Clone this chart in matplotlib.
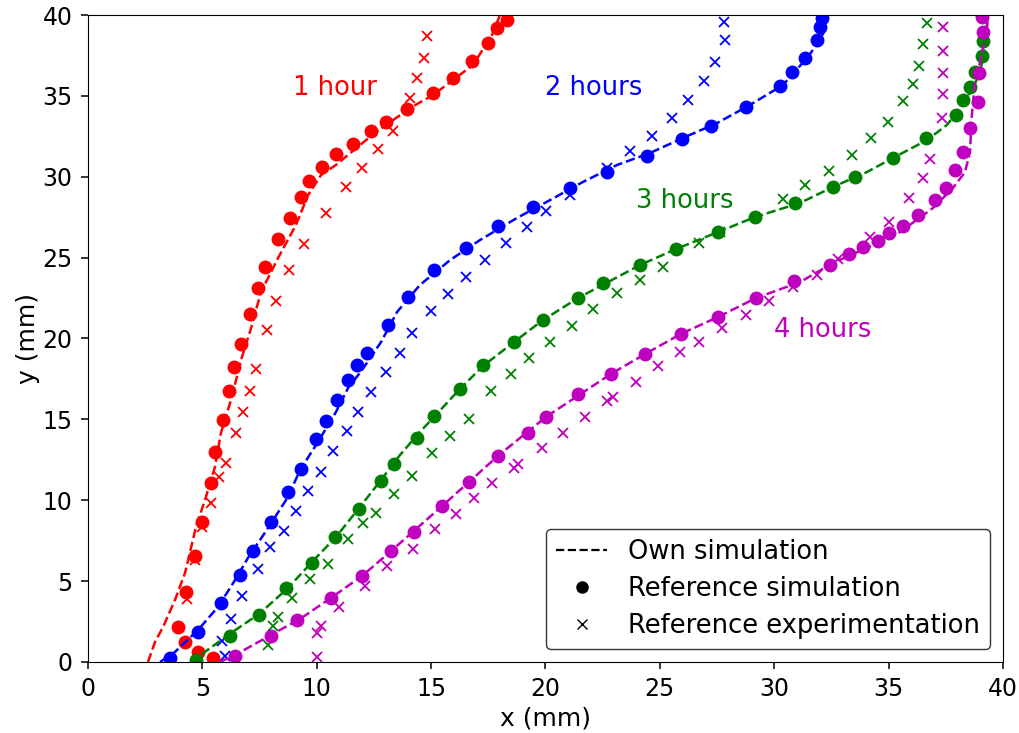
import matplotlib
matplotlib.use("Agg")
import matplotlib.pyplot as plt
from matplotlib.lines import Line2D

# ── Datos (x, y en mm) ────────────────────────────────────────────────────────
# 1 hora
own1_x = [2.62, 2.93, 3.28, 3.80, 4.24, 4.72, 5.11, 5.55, 5.81, 6.25, 6.73, 7.13, 7.56,
          8.31, 9.09, 9.62, 10.19, 10.84, 12.42, 14.08, 15.08, 16.83, 17.66, 18.01]
own1_y = [0.0, 1.24, 2.16, 3.83, 5.50, 8.35, 10.0, 12.06, 14.16, 16.20, 18.86, 20.65, 22.87,
          24.98, 27.02, 28.87, 30.11, 30.73, 32.58, 34.25, 35.05, 36.91, 38.76, 40.0]
ref1_x = [5.46, 4.81, 4.24, 3.93, 4.28, 4.68, 4.98, 5.38, 5.55, 5.90, 6.16, 6.38, 6.69, 7.08,
          7.43, 7.74, 8.31, 8.83, 9.31, 9.66, 10.23, 10.84, 11.58, 12.37, 13.03, 13.95,
          15.08, 15.96, 16.79, 17.49, 17.88, 18.32]
ref1_y = [0.25, 0.62, 1.24, 2.16, 4.33, 6.55, 8.66, 11.07, 12.98, 14.96, 16.75, 18.24, 19.66,
          21.51, 23.12, 24.42, 26.15, 27.45, 28.75, 29.74, 30.60, 31.41, 32.02, 32.83, 33.38,
          34.19, 35.18, 36.11, 37.16, 38.27, 39.20, 39.69]
exp1_x = [4.81, 4.33, 4.68, 4.98, 5.38, 5.73, 6.03, 6.47, 6.78, 7.08, 7.34, 7.83, 8.22, 8.79,
          9.44, 10.40, 11.28, 11.98, 12.68, 13.33, 14.08, 14.38, 14.69, 14.82]
exp1_y = [0.25, 3.89, 6.31, 8.35, 9.83, 11.44, 12.30, 14.16, 15.46, 16.75, 18.11, 20.53, 22.32,
          24.23, 25.84, 27.76, 29.37, 30.54, 31.72, 32.83, 34.87, 36.11, 37.34, 38.70]

# 2 horas
own2_x = [3.15, 3.80, 4.81, 5.68, 6.43, 6.99, 7.87, 8.74, 9.27, 10.05, 10.84, 11.37, 11.98,
          12.81, 13.51, 14.51, 15.83, 17.14, 18.75, 20.20, 21.64, 23.13, 24.57, 26.01, 27.50,
          28.94, 30.38, 31.43, 31.91, 32.22, 32.30]
own2_y = [0.0, 0.62, 1.98, 3.40, 5.07, 6.43, 8.28, 10.20, 11.87, 13.60, 15.46, 16.94, 18.05,
          19.78, 21.64, 23.31, 24.85, 26.09, 27.45, 28.56, 29.68, 30.73, 31.47, 32.40, 33.32,
          34.44, 35.67, 37.34, 38.27, 39.07, 40.0]
ref2_x = [3.58, 4.81, 5.81, 6.64, 7.21, 8.00, 8.74, 9.31, 9.97, 10.40, 10.89, 11.37, 11.76,
          12.20, 13.11, 13.99, 15.13, 16.52, 17.92, 19.45, 21.07, 22.69, 24.44, 25.97, 27.23,
          28.77, 30.25, 30.78, 31.34, 31.87, 32.0, 32.09]
ref2_y = [0.25, 1.85, 3.65, 5.38, 6.86, 8.66, 10.51, 11.93, 13.79, 14.90, 16.20, 17.43, 18.36,
          19.10, 20.83, 22.57, 24.24, 25.60, 26.96, 28.13, 29.30, 30.29, 31.28, 32.33, 33.14,
          34.31, 35.61, 36.48, 37.34, 38.45, 39.26, 39.81]
exp2_x = [5.99, 5.86, 6.25, 6.73, 7.43, 7.96, 8.57, 9.09, 9.62, 10.19, 10.71, 11.32, 11.80,
          12.37, 13.03, 13.64, 14.16, 14.99, 15.74, 16.52, 17.36, 18.27, 19.19, 20.02, 21.07,
          22.69, 23.69, 24.66, 25.53, 26.23, 26.93, 27.41, 27.85, 27.80]
exp2_y = [0.37, 1.30, 2.66, 4.08, 5.75, 7.11, 8.10, 9.34, 10.57, 11.75, 13.04, 14.28, 15.46,
          16.69, 17.93, 19.10, 20.34, 21.70, 22.75, 23.80, 24.85, 25.90, 26.89, 27.88, 28.87,
          30.54, 31.59, 32.52, 33.63, 34.74, 35.92, 37.09, 38.45, 39.57]

# 3 horas
own3_x = [4.50, 6.25, 7.48, 8.74, 9.79, 10.84, 11.85, 12.81, 13.64, 14.51, 16.26, 17.27, 18.62,
          19.89, 21.42, 24.13, 25.70, 27.54, 29.16, 31.13, 32.57, 34.05, 35.19, 36.68, 37.55,
          38.12, 38.69, 39.0, 39.21, 39.34]
own3_y = [0.0, 1.79, 2.97, 4.57, 6.18, 7.73, 9.52, 11.25, 12.80, 14.22, 16.88, 18.30, 19.78,
          21.14, 22.50, 24.54, 25.53, 26.58, 27.51, 28.38, 29.37, 30.29, 31.16, 32.27, 33.20,
          34.25, 35.49, 36.48, 37.96, 40.0]
ref3_x = [4.72, 6.21, 7.48, 8.66, 9.79, 10.80, 11.85, 12.81, 13.38, 14.38, 15.13, 16.26, 17.27,
          18.62, 19.89, 21.42, 22.51, 24.13, 25.70, 27.54, 29.16, 30.91, 32.57, 33.53, 35.19,
          36.63, 37.95, 38.26, 38.55, 38.77, 39.08, 39.12]
ref3_y = [0.12, 1.61, 2.91, 4.57, 6.12, 7.73, 9.46, 11.19, 12.24, 13.85, 15.21, 16.88, 18.36,
          19.78, 21.14, 22.50, 23.43, 24.54, 25.53, 26.58, 27.51, 28.38, 29.37, 29.98, 31.16,
          32.40, 33.81, 34.74, 35.55, 36.48, 37.46, 38.39]
exp3_x = [7.87, 8.09, 8.31, 8.92, 9.70, 10.49, 11.37, 12.02, 12.59, 13.38, 14.16, 15.04, 15.83,
          16.66, 17.62, 18.49, 19.28, 20.20, 21.16, 22.08, 23.13, 24.13, 25.14, 26.71, 27.63,
          30.38, 31.34, 32.39, 33.40, 34.23, 34.97, 35.63, 36.07, 36.33, 36.50, 36.68]
exp3_y = [1.05, 2.23, 2.78, 3.96, 5.13, 6.06, 7.60, 8.59, 9.21, 10.39, 11.50, 12.92, 13.97,
          15.02, 16.75, 17.81, 18.79, 19.78, 20.77, 21.82, 22.81, 23.62, 24.42, 25.90, 26.58,
          28.62, 29.49, 30.35, 31.34, 32.40, 33.38, 34.68, 35.73, 36.85, 38.21, 39.51]

# 4 horas
own4_x = [5.77, 6.43, 8.0, 9.27, 10.62, 11.98, 13.25, 15.48, 17.92, 20.02, 22.86, 24.35, 25.92,
          27.54, 29.20, 31.13, 32.57, 34.05, 35.50, 36.94, 37.81, 38.34, 38.56, 38.64, 38.78,
          39.0, 39.30, 39.34]
own4_y = [0.0, 0.43, 1.67, 2.66, 3.96, 5.32, 6.86, 9.64, 12.74, 15.15, 17.81, 19.04, 20.28,
          21.33, 22.50, 23.49, 24.67, 25.60, 26.58, 28.07, 29.30, 30.29, 31.53, 33.82, 35.86,
          37.09, 39.20, 40.0]
ref4_x = [6.43, 8.00, 9.14, 10.62, 11.98, 13.25, 14.25, 15.48, 16.66, 17.92, 19.23, 20.02,
          21.42, 22.86, 24.35, 25.92, 27.54, 29.20, 30.86, 32.44, 33.27, 33.88, 34.54, 35.02,
          35.63, 36.28, 37.03, 37.51, 37.90, 38.25, 38.56, 38.91, 38.95, 39.13, 39.10]
ref4_y = [0.37, 1.61, 2.60, 3.96, 5.32, 6.86, 8.04, 9.64, 11.13, 12.74, 14.16, 15.15, 16.57,
          17.81, 19.04, 20.28, 21.33, 22.50, 23.55, 24.54, 25.22, 25.66, 26.03, 26.52, 26.96,
          27.64, 28.56, 29.30, 30.42, 31.53, 33.01, 34.62, 36.41, 38.95, 39.88]
exp4_x = [10.01, 10.01, 10.19, 10.97, 12.11, 13.07, 14.21, 15.17, 16.09, 16.87, 17.66, 18.62,
          18.80, 19.85, 20.77, 21.73, 22.69, 22.95, 23.96, 24.92, 25.88, 26.71, 27.72, 28.77,
          29.77, 30.82, 31.87, 32.79, 34.19, 35.02, 35.89, 36.50, 36.81, 37.33, 37.38, 37.38,
          37.38, 37.38]
exp4_y = [0.31, 1.79, 2.23, 3.40, 4.70, 5.94, 6.99, 8.22, 9.15, 10.14, 11.07, 11.99, 12.24,
          13.23, 14.16, 15.15, 16.14, 16.38, 17.31, 18.30, 19.17, 19.78, 20.65, 21.45, 22.32,
          23.18, 23.93, 24.92, 26.28, 27.20, 28.69, 29.92, 31.10, 33.63, 35.12, 36.41, 37.77,
          39.26]

series = [
    ('r', own1_x, own1_y, ref1_x, ref1_y, exp1_x, exp1_y),
    ('b', own2_x, own2_y, ref2_x, ref2_y, exp2_x, exp2_y),
    ('g', own3_x, own3_y, ref3_x, ref3_y, exp3_x, exp3_y),
    ('m', own4_x, own4_y, ref4_x, ref4_y, exp4_x, exp4_y),
]

etiquetas = [('1 hour', 10.8, 35.5, 'r'), ('2 hours', 22.1, 35.5, 'b'),
             ('3 hours', 26.1, 28.5, 'g'), ('4 hours', 32.1, 20.5, 'm')]

# ── Figura ────────────────────────────────────────────────────────────────────
fig, ax = plt.subplots(figsize=(10.2, 7.33), dpi=100)
fig.subplots_adjust(left=0.0863, right=0.9833, top=0.9795, bottom=0.0969)

for c, ox, oy, rx, ry, ex, ey in series:
    ax.plot(ox, oy, '--', color=c, linewidth=1.8)
    ax.plot(rx, ry, 'o', color=c, markersize=9, linestyle='none')
    ax.plot(ex, ey, 'x', color=c, markersize=7.5, markeredgewidth=1.3, linestyle='none')

for txt, x, y, c in etiquetas:
    ax.text(x, y, txt, color=c, fontsize=18.5, ha='center', va='center')

ax.set_xlim(0, 40)
ax.set_ylim(0, 40)
ax.set_xlabel('x (mm)', fontsize=18, labelpad=4)
ax.set_ylabel('y (mm)', fontsize=18, labelpad=2)
ax.tick_params(labelsize=17, length=5, width=1.1, pad=6)

handles = [Line2D([], [], color='k', linestyle='--', linewidth=1.6),
           Line2D([], [], color='k', marker='o', linestyle='none', markersize=8),
           Line2D([], [], color='k', marker='x', linestyle='none', markersize=7)]
ax.legend(handles, ['Own simulation', 'Reference simulation', 'Reference experimentation'],
          loc='lower right', fontsize=18.5, edgecolor='k', fancybox=True,
          borderaxespad=0.5, labelspacing=0.42)

fig.savefig('out.png', dpi=100)
